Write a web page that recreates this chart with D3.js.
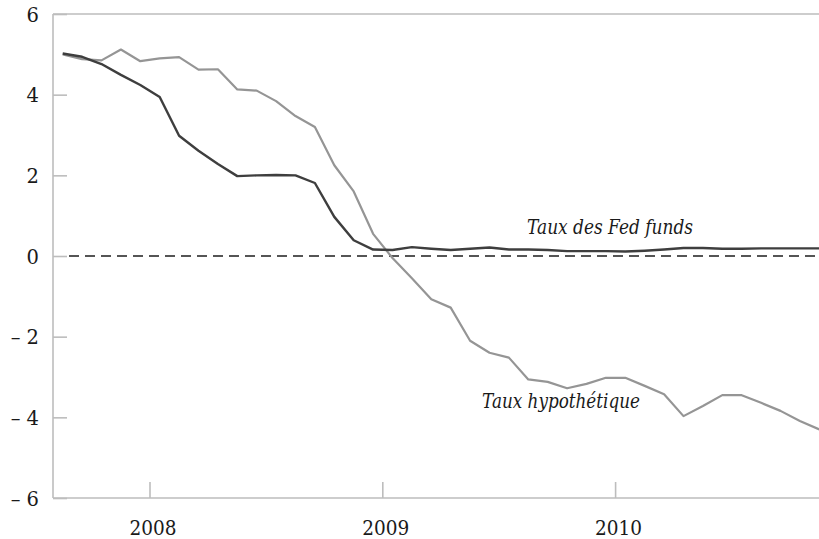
<!DOCTYPE html>
<html>
<head>
<meta charset="utf-8">
<script src="https://cdn.jsdelivr.net/npm/d3@7"></script>
<style>
  html, body { margin: 0; padding: 0; background: #fff; }
  svg { display: block; }
</style>
</head>
<body>
<svg id="chart" width="819" height="539"></svg>
<script>
// Monthly data, Aug 2007 -> Nov 2010
const months = [
  "2007-08","2007-09","2007-10","2007-11","2007-12",
  "2008-01","2008-02","2008-03","2008-04","2008-05","2008-06","2008-07","2008-08","2008-09","2008-10","2008-11","2008-12",
  "2009-01","2009-02","2009-03","2009-04","2009-05","2009-06","2009-07","2009-08","2009-09","2009-10","2009-11","2009-12",
  "2010-01","2010-02","2010-03","2010-04","2010-05","2010-06","2010-07","2010-08","2010-09","2010-10","2010-11"
];
const fedFunds = [
  5.02, 4.94, 4.76, 4.49, 4.24,
  3.94, 2.98, 2.61, 2.28, 1.98, 2.00, 2.01, 2.00, 1.81, 0.97, 0.39, 0.16,
  0.15, 0.22, 0.18, 0.15, 0.18, 0.21, 0.16, 0.16, 0.15, 0.12, 0.12, 0.12,
  0.11, 0.13, 0.16, 0.20, 0.20, 0.18, 0.18, 0.19, 0.19, 0.19, 0.19
];
const hypothetical = [
  5.00, 4.88, 4.85, 5.12, 4.83,
  4.90, 4.93, 4.62, 4.63, 4.13, 4.10, 3.84, 3.47, 3.20, 2.25, 1.60, 0.55,
  -0.05, -0.55, -1.07, -1.28, -2.10, -2.40, -2.52, -3.06, -3.12, -3.28, -3.17, -3.02,
  -3.02, -3.22, -3.43, -3.97, -3.72, -3.45, -3.45, -3.64, -3.84, -4.09, -4.30
];
const yTicks = [6, 4, 2, 0, -2, -4, -6];
const yearTicks = [2008, 2009, 2010];
const seriesLabels = ["Taux des Fed funds", "Taux hypothétique"];

const FONT = "'DejaVu Serif', serif";
const svg = d3.select("#chart");
const mLeft = 53, mTop = 14, mBottom = 498;
const monthW = 19.4;
// x: months elapsed since 1 Aug 2007
const x = d3.scaleLinear().domain([0, months.length + 0.5]).range([mLeft, mLeft + (months.length + 0.5) * monthW]);
const y = d3.scaleLinear().domain([-6, 6]).range([mBottom, mTop]);
const xRight = 819;

const axisColor = "#bdbdbd";

// frame: top, left, bottom
svg.append("line").attr("x1", mLeft).attr("x2", xRight).attr("y1", y(6)).attr("y2", y(6))
  .attr("stroke", axisColor).attr("stroke-width", 1.6);
svg.append("line").attr("x1", mLeft).attr("x2", mLeft).attr("y1", y(6)).attr("y2", y(-6))
  .attr("stroke", axisColor).attr("stroke-width", 1.6);
svg.append("line").attr("x1", mLeft).attr("x2", xRight).attr("y1", y(-6)).attr("y2", y(-6))
  .attr("stroke", axisColor).attr("stroke-width", 1.6);

// y axis
const yAxis = d3.axisLeft(y).tickValues(yTicks).tickSize(-14).tickPadding(0)
  .tickFormat(d => d < 0 ? "\u2013 " + Math.abs(d) : String(d));
const gy = svg.append("g").attr("transform", `translate(${mLeft},0)`).call(yAxis);
gy.attr("font-family", null).attr("font-size", null);
gy.select(".domain").remove();
gy.selectAll(".tick line").attr("stroke", axisColor).attr("stroke-width", 1.6);
gy.selectAll(".tick text").attr("x", -14).attr("dy", "0.36em")
  .attr("font-family", FONT).attr("font-size", 19.5).attr("fill", "#1a1a1a");

// x axis (years, ticks at 1 January)
const yearPos = yr => x((yr - 2007) * 12 - 7);
const gx = svg.append("g").attr("transform", `translate(0,${mBottom})`);
gx.selectAll("line.tk").data(yearTicks).join("line").attr("class", "tk")
  .attr("x1", d => yearPos(d)).attr("x2", d => yearPos(d)).attr("y1", 0).attr("y2", -16)
  .attr("stroke", axisColor).attr("stroke-width", 1.6);
gx.selectAll("text").data(yearTicks).join("text")
  .attr("x", d => yearPos(d) + 3 - 23.5).attr("y", 37)
  .attr("textLength", 47).attr("lengthAdjust", "spacingAndGlyphs")
  .attr("font-family", FONT).attr("font-size", 21).attr("fill", "#1a1a1a").text(d => d);

// zero dashed line
svg.append("line").attr("x1", mLeft + 16).attr("x2", xRight).attr("y1", y(0)).attr("y2", y(0))
  .attr("stroke", "#1e1e1e").attr("stroke-width", 1.4).attr("stroke-dasharray", "10,6");

// lines
const line = d3.line().x((d, i) => x(i + 0.5)).y(d => y(d));
svg.append("path").datum(hypothetical).attr("d", line)
  .attr("fill", "none").attr("stroke", "#959595").attr("stroke-width", 2.2).attr("stroke-linejoin", "round");
svg.append("path").datum(fedFunds).attr("d", line)
  .attr("fill", "none").attr("stroke", "#3e3e3e").attr("stroke-width", 2.4).attr("stroke-linejoin", "round");

// labels
svg.append("text").attr("x", 527).attr("y", 234).attr("font-family", FONT).attr("font-size", 20)
  .attr("font-style", "italic").attr("fill", "#1a1a1a")
  .attr("textLength", 166).attr("lengthAdjust", "spacingAndGlyphs").text(seriesLabels[0]);
svg.append("text").attr("x", 482).attr("y", 408).attr("font-family", FONT).attr("font-size", 20)
  .attr("font-style", "italic").attr("fill", "#1a1a1a")
  .attr("textLength", 158).attr("lengthAdjust", "spacingAndGlyphs").text(seriesLabels[1]);
</script>
</body>
</html>
